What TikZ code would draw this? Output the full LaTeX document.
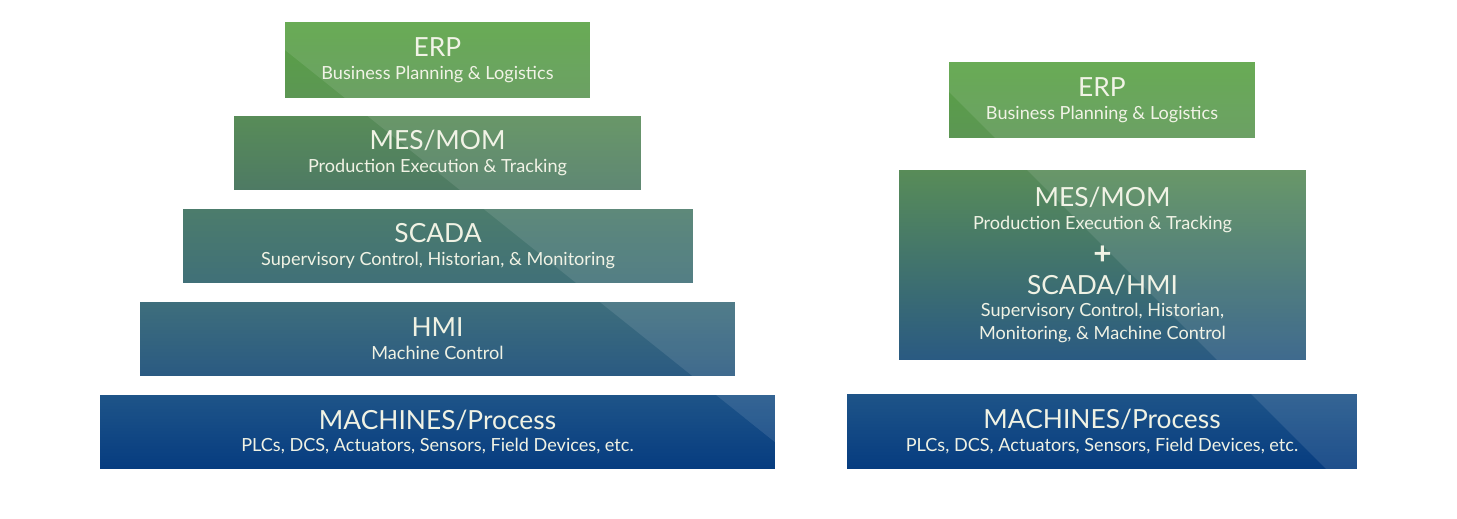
\documentclass[tikz,border=0pt]{standalone}
\usepackage{fontspec}
\setmainfont{Lato}

\definecolor{boxtext}{RGB}{240,242,228}
\definecolor{erpT}{RGB}{88,162,66}
\definecolor{erpB}{RGB}{92,150,84}
\definecolor{mesT}{RGB}{88,140,88}
\definecolor{mesB}{RGB}{78,122,100}
\definecolor{scaT}{RGB}{76,124,108}
\definecolor{scaB}{RGB}{64,112,120}
\definecolor{hmiT}{RGB}{62,110,124}
\definecolor{hmiB}{RGB}{42,90,130}
\definecolor{macT}{RGB}{30,84,136}
\definecolor{macB}{RGB}{6,60,128}

\newcommand{\ttl}[1]{{\fontsize{15}{13}\selectfont #1}}

\tikzset{
  tier/.style={rectangle, inner sep=0pt, text=boxtext, align=center,
    font=\fontsize{10.3}{13}\selectfont},
  lightcut/.style={fill=white, fill opacity=0.1}
}

\begin{document}
\begin{tikzpicture}[x=0.02cm,y=-0.02cm]
	\useasboundingbox (0,0) rectangle (1457,519);

	% left stack
	\node[tier, top color=erpT, bottom color=erpB, minimum width=6.10cm, minimum height=1.50cm] (erpL) at (437.5,60.5) {\ttl{ERP}\\Business Planning \& Logistics};
	\node[tier, top color=mesT, bottom color=mesB, minimum width=8.14cm, minimum height=1.48cm] (mesL) at (437.5,153) {\ttl{MES/MOM}\\Production Execution \& Tracking};
	\node[tier, top color=scaT, bottom color=scaB, minimum width=10.2cm, minimum height=1.48cm] (scadaL) at (438,246) {\ttl{SCADA}\\Supervisory Control, Historian, \& Monitoring};
	\node[tier, top color=hmiT, bottom color=hmiB, minimum width=11.9cm, minimum height=1.48cm] (hmiL) at (437.5,339) {\ttl{HMI}\\Machine Control};
	\node[tier, top color=macT, bottom color=macB, minimum width=13.5cm, minimum height=1.48cm] (machL) at (437.5,432) {\ttl{MACHINES/Process}\\PLCs, DCS, Actuators, Sensors, Field Devices, etc.};

	% right stack
	\node[tier, top color=erpT, bottom color=erpB, minimum width=6.12cm, minimum height=1.50cm] (erpR) at (1102,100.5) {\ttl{ERP}\\Business Planning \& Logistics};
	\node[tier, top color=mesT, bottom color=hmiB, minimum width=8.14cm, minimum height=3.80cm] (mesR) at (1102.5,265) {\ttl{MES/MOM}\\Production Execution \& Tracking\\[7pt]{\fontsize{18}{13}\selectfont\textbf{+}}\\[4pt]\ttl{SCADA/HMI}\\Supervisory Control, Historian,\\Monitoring, \& Machine Control};
	\node[tier, top color=macT, bottom color=macB, minimum width=10.2cm, minimum height=1.50cm] (machR) at (1102,431.5) {\ttl{MACHINES/Process}\\PLCs, DCS, Actuators, Sensors, Field Devices, etc.};

	% lighter diagonal part
	\foreach \n in {erpL,mesL,scadaL,hmiL,machL}{
		\begin{scope}
			\clip (\n.north west) rectangle (\n.south east);
			\fill[lightcut] (222.5,0) -- (871,519) -- (900,519) -- (900,0) -- cycle;
		\end{scope}
	}
	\foreach \n in {erpR,mesR,machR}{
		\begin{scope}
			\clip (\n.north west) rectangle (\n.south east);
			\fill[lightcut] (857,0) -- (1376,519) -- (1457,519) -- (1457,0) -- cycle;
		\end{scope}
	}
\end{tikzpicture}
\end{document}
